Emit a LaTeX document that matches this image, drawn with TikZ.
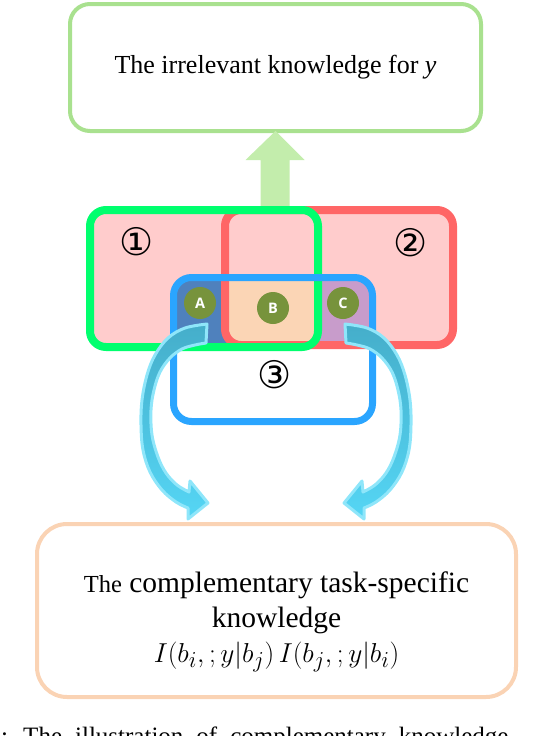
\documentclass[tikz,border=0pt]{standalone}
\usepackage{fontspec}
\setmainfont{Liberation Serif}
\newfontfamily\circfont{DejaVu Sans}
\newfontfamily\abcfont{Open Sans}
\usetikzlibrary{calc}
\definecolor{topgreen}{HTML}{A9E18F}
\definecolor{upgreen}{HTML}{C3EDAC}
\definecolor{gstroke}{HTML}{00FF6E}
\definecolor{rstroke}{HTML}{FF6666}
\definecolor{bstroke}{HTML}{2AA5FF}
\definecolor{pinkfill}{HTML}{FFCCCC}
\definecolor{dblue}{HTML}{4F81BD}
\definecolor{peachfill}{HTML}{FBD5B5}
\definecolor{purp}{HTML}{C89CCB}
\definecolor{olive}{HTML}{77933C}
\definecolor{peachline}{HTML}{FAD3B4}
\definecolor{arrline}{HTML}{8FE6FA}
\definecolor{arrteal}{HTML}{45AECA}
\definecolor{arrlight}{HTML}{86E2F8}
\definecolor{arrcyan}{HTML}{55D6F5}
\tikzset{
  geom/.style={rectangle, inner sep=0pt, outer sep=0pt},
  bigbox/.style={geom, draw, line width=4pt},
  letterdot/.style={circle, fill=olive, minimum size=32pt, inner sep=0pt, text=white,
    font=\abcfont\bfseries\fontsize{14.5}{14.5}\selectfont},
  circnum/.style={inner sep=0pt, font=\circfont\fontsize{38}{38}\selectfont},
  curvarrow/.style={draw=arrline, line width=3pt, line join=round,
    top color=arrteal, middle color=arrlight, bottom color=arrcyan},
}
\newcommand{\curvedarrowpath}{%
  (207,324) -- plot[smooth, tension=0.6] coordinates {(207,324) (185,328) (168,338) (155,355) (147,375)
    (142,400) (141,425) (143,450) (150,472) (162,490) (176,502) (188,508)}
  -- (188,519) -- (208,503) -- (190,481) -- (189,492)
  -- plot[smooth, tension=0.6] coordinates {(189,492) (177,485) (166,473) (158,457) (152,435) (151,410)
    (154,390) (160,372) (170,358) (182,349) (195,345) (206,343)} -- cycle}
\begin{document}
\begin{tikzpicture}[x=1pt,y=-1pt]
\useasboundingbox (0,0) rectangle (548,736);

% geometry of the three overlapping sets
\node[geom, minimum width=228pt, minimum height=137pt] (g) at (204,278.5) {};
\node[geom, minimum width=228pt, minimum height=135pt] (r) at (339,277.5) {};
\node[geom, minimum width=199pt, minimum height=144pt] (b) at (273,349.5) {};

% top box
\node[bigbox, draw=topgreen, minimum width=411pt, minimum height=127pt, rounded corners=20pt,
  font=\fontsize{26}{30}\selectfont] (irr) at (275.5,67.5)
  {\raisebox{-3pt}{The irrelevant knowledge for \textit{y}}};

% fat up arrow
\fill[upgreen] ($(irr.south)+(-15,75)$) -- ($(irr.south)+(-15,29)$) -- ($(irr.south)+(-30,29)$)
  -- (irr.south) -- ($(irr.south)+(29,29)$) -- ($(irr.south)+(14,29)$) -- ($(irr.south)+(14,75)$) -- cycle;

% fills
\fill[pinkfill, rounded corners=16pt] (g.south west) rectangle (g.north east);
\fill[pinkfill, rounded corners=16pt] (r.south west) rectangle (r.north east);
\fill[white, rounded corners=18pt] (b.south west) rectangle (b.north east);
\begin{scope}
  \clip[rounded corners=18pt] (b.south west) rectangle (b.north east);
  \fill[dblue, rounded corners=16pt] (g.south west) rectangle (g.north east);
  \fill[purp, rounded corners=16pt] (r.south west) rectangle (r.north east);
  \begin{scope}
    \clip[rounded corners=16pt] (g.south west) rectangle (g.north east);
    \fill[peachfill, rounded corners=16pt] (r.south west) rectangle (r.north east);
  \end{scope}
\end{scope}

% strokes
\draw[rstroke, line width=8pt, rounded corners=16pt] (r.south west) rectangle (r.north east);
\draw[gstroke, line width=8pt, rounded corners=16pt] (g.south west) rectangle (g.north east);
\draw[bstroke, line width=7pt, rounded corners=18pt] (b.south west) rectangle (b.north east);

% letters
\node[letterdot] (A) at (200,303) {A};
\node[letterdot] (B) at (273,308) {B};
\node[letterdot] (C) at (343,303) {C};

% circled numbers
\node[circnum] (n1) at (137,242) {①};
\node[circnum] (n2) at (411,243) {②};
\node[circnum] (n3) at (275,375) {③};

% curved arrows
\path[curvarrow] \curvedarrowpath;
\begin{scope}[xshift=552pt, xscale=-1]
  \path[curvarrow] \curvedarrowpath;
\end{scope}

% bottom box
\node[bigbox, draw=peachline, minimum width=479pt, minimum height=173pt, rounded corners=30pt] (comp) at (276.5,610.5) {};
\node[align=center, inner sep=0pt, font=\fontsize{29.5}{35}\selectfont] (comptext) at (276.5,622)
  {{\fontsize{24.5}{35}\selectfont The} complementary task-specific\\ knowledge\\
   \scalebox{1.1}{$I\bigl(b_i,;y|b_j\bigr)\,I(b_j,;y|b_i)$}};

% cut caption
\begin{scope}
  \clip (0,0) rectangle (548,736);
  \node[anchor=base west, inner sep=0pt, font=\fontsize{25}{30}\selectfont] (cap) at (1,744.5)
    {\spaceskip=13pt : The illustration of complementary knowledge};
\end{scope}
\end{tikzpicture}
\end{document}
